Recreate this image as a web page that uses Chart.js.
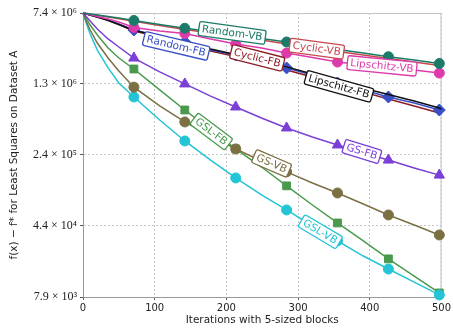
<!DOCTYPE html>
<html>
<head>
<meta charset="utf-8">
<script src="https://cdn.jsdelivr.net/npm/chart.js@4.4.0/dist/chart.umd.min.js"></script>
<style>
  html, body { margin: 0; padding: 0; background: #fff; }
</style>
</head>
<body>
<canvas id="myChart" width="453" height="328"></canvas>
<script>
// iterations where values were read, and where markers are drawn
let iters = [0, 5, 10, 20, 35, 50, 71, 107, 142, 178, 213, 249, 284, 320, 355, 391, 426, 462, 497, 500];
let markIters = [71, 142, 213, 284, 355, 426, 497];

let randomVB = [7.40e6, 7.31e6, 7.22e6, 7.05e6, 6.80e6, 6.56e6, 6.18e6, 5.61e6, 5.12e6, 4.74e6, 4.36e6, 4.00e6, 3.68e6, 3.34e6, 3.07e6, 2.82e6, 2.58e6, 2.39e6, 2.19e6, 2.17e6];
let cyclicVB = [7.40e6, 7.31e6, 7.19e6, 7.00e6, 6.72e6, 6.45e6, 6.06e6, 5.48e6, 4.97e6, 4.57e6, 4.20e6, 3.86e6, 3.51e6, 3.18e6, 2.93e6, 2.69e6, 2.47e6, 2.27e6, 2.09e6, 2.06e6];
let lipschitzVB = [7.40e6, 7.26e6, 7.09e6, 6.80e6, 6.40e6, 5.96e6, 5.22e6, 4.80e6, 4.52e6, 3.96e6, 3.51e6, 3.18e6, 2.82e6, 2.53e6, 2.27e6, 2.11e6, 1.99e6, 1.87e6, 1.74e6, 1.72e6];
let randomFB = [7.40e6, 7.22e6, 7.05e6, 6.72e6, 6.25e6, 5.68e6, 4.91e6, 4.25e6, 3.68e6, 3.03e6, 2.69e6, 2.33e6, 1.97e6, 1.66e6, 1.37e6, 1.16e6, 9.78e5, 8.47e5, 7.15e5, 6.98e5];
let cyclicFB = [7.40e6, 7.22e6, 7.05e6, 6.72e6, 6.25e6, 5.61e6, 4.80e6, 4.15e6, 3.59e6, 2.96e6, 2.60e6, 2.22e6, 1.87e6, 1.58e6, 1.31e6, 1.10e6, 9.32e5, 7.88e5, 6.65e5, 6.49e5];
let lipschitzFB = [7.40e6, 7.22e6, 7.05e6, 6.72e6, 6.18e6, 5.61e6, 4.86e6, 4.25e6, 3.72e6, 3.11e6, 2.72e6, 2.39e6, 2.02e6, 1.70e6, 1.44e6, 1.21e6, 1.04e6, 8.88e5, 7.51e5, 7.33e5];
let gsFB = [7.40e6, 6.72e6, 6.10e6, 5.03e6, 3.96e6, 3.26e6, 2.50e6, 1.79e6, 1.34e6, 1.00e6, 7.69e5, 5.90e5, 4.64e5, 3.73e5, 3.08e5, 2.54e5, 2.14e5, 1.77e5, 1.49e5, 1.46e5];
let gslFB = [7.40e6, 6.40e6, 5.54e6, 4.36e6, 3.18e6, 2.50e6, 1.92e6, 1.16e6, 7.15e5, 4.42e5, 2.80e5, 1.81e5, 1.15e5, 7.25e4, 4.70e4, 3.05e4, 1.98e4, 1.31e4, 8.71e3, 8.30e3];
let gsVB = [7.40e6, 5.96e6, 4.91e6, 3.59e6, 2.50e6, 1.83e6, 1.24e6, 7.88e5, 5.36e5, 3.82e5, 2.80e5, 2.09e5, 1.61e5, 1.23e5, 9.68e4, 7.43e4, 5.70e4, 4.48e4, 3.52e4, 3.44e4];
let gslVB = [7.40e6, 5.68e6, 4.46e6, 3.03e6, 1.97e6, 1.37e6, 9.78e5, 5.62e5, 3.39e5, 2.14e5, 1.39e5, 9.23e4, 6.43e4, 4.37e4, 3.05e4, 2.12e4, 1.55e4, 1.13e4, 8.30e3, 8.10e3];

let yTickVals = [7.9e3, 4.373e4, 2.419e5, 1.338e6, 7.4e6];
let yTickLabels = ['7.9 × 10³', '4.4 × 10⁴', '2.4 × 10⁵', '1.3 × 10⁶', '7.4 × 10⁶'];

// name, values, colour, marker (null = plain line)
let series = [
  ['Random-VB', randomVB, '#1b7b68', 'circle'],
  ['Lipschitz-VB', lipschitzVB, '#dd3aab', 'circle'],
  ['Cyclic-VB', cyclicVB, '#c9484c', null],
  ['Lipschitz-FB', lipschitzFB, '#111111', null],
  ['Random-FB', randomFB, '#3a4fc6', 'rectRot'],
  ['Cyclic-FB', cyclicFB, '#8b1c24', null],
  ['GS-FB', gsFB, '#7b3fd6', 'triangle'],
  ['GS-VB', gsVB, '#7a7044', 'circle'],
  ['GSL-VB', gslVB, '#22c4d6', 'circle'],
  ['GSL-FB', gslFB, '#4a9a4e', 'rect'],
];

// inline label placement: dataset name, iteration along the line, pixel shift
let labelPlace = [
  ['Random-VB', 208, -1.5],
  ['Random-FB', 130, 6],
  ['Cyclic-VB', 326, 0],
  ['Lipschitz-VB', 417, -1],
  ['Cyclic-FB', 243, -4],
  ['Lipschitz-FB', 357, 5],
  ['GS-FB', 389, -1],
  ['GSL-FB', 179, 1],
  ['GS-VB', 263, -2],
  ['GSL-VB', 331, 1],
];

let markerSize = { circle: 5, rectRot: 6, triangle: 6, rect: 5.5 };

let datasets = series.map(s => ({
  label: s[0],
  data: iters.map((x, i) => ({ x: x, y: s[1][i] })),
  borderColor: s[2],
  backgroundColor: s[2],
  borderWidth: 1.5,
  pointStyle: s[3] || 'circle',
  pointRadius: (c) => (s[3] && markIters.includes(iters[c.dataIndex])) ? markerSize[s[3]] : 0,
  pointBorderWidth: 1,
  tension: 0,
  clip: 8,
}));

let inlineLabels = {
  id: 'inlineLabels',
  afterDatasetsDraw: (chart) => {
    let ctx = chart.ctx;
    let xs = chart.scales.x;
    labelPlace.forEach(lp => {
      let di = series.findIndex(s => s[0] === lp[0]);
      let pts = chart.getDatasetMeta(di).data;
      let j = 0;
      while (j < iters.length - 2 && iters[j + 1] < lp[1]) j++;
      let p1 = pts[j], p2 = pts[j + 1];
      let t = (lp[1] - iters[j]) / (iters[j + 1] - iters[j]);
      let x = xs.getPixelForValue(lp[1]);
      let y = p1.y + (p2.y - p1.y) * t + lp[2];
      let ang = Math.atan2(p2.y - p1.y, p2.x - p1.x);
      let col = series[di][2];

      ctx.save();
      ctx.translate(x, y);
      ctx.rotate(ang);
      ctx.font = '10.5px "DejaVu Sans"';
      let w = ctx.measureText(lp[0]).width + 6;
      let h = 14;
      ctx.beginPath();
      ctx.roundRect(-w / 2, -h / 2, w, h, 2);
      ctx.fillStyle = '#fff';
      ctx.fill();
      ctx.lineWidth = 1.3;
      ctx.strokeStyle = col;
      ctx.stroke();
      ctx.fillStyle = col;
      ctx.textAlign = 'center';
      ctx.textBaseline = 'middle';
      ctx.fillText(lp[0], 0, 0.5);
      ctx.restore();
    });
  }
};

let frame = {
  id: 'frame',
  beforeDatasetsDraw: (chart) => {
    let a = chart.chartArea;
    let ctx = chart.ctx;
    ctx.save();
    ctx.strokeStyle = '#c4c4c4';
    ctx.lineWidth = 1;
    ctx.beginPath();
    ctx.moveTo(a.left, a.top + 0.5);
    ctx.lineTo(a.right - 0.5, a.top + 0.5);
    ctx.lineTo(a.right - 0.5, a.bottom);
    ctx.stroke();
    ctx.restore();
  }
};

Chart.defaults.font.family = '"DejaVu Sans"';

var ctx = document.getElementById('myChart').getContext('2d');
let myChart = new Chart(ctx, {
  type: 'line',
  data: { datasets: datasets },
  options: {
    responsive: false,
    animation: false,
    layout: { padding: { top: 13, right: 10, left: 0, bottom: 0 } },
    plugins: {
      legend: { display: false },
      tooltip: { enabled: false },
    },
    scales: {
      x: {
        type: 'linear',
        min: 0,
        max: 500,
        ticks: { stepSize: 100, color: '#222', font: { size: 10 }, padding: 2, maxRotation: 0 },
        grid: { color: '#c8c8c8', tickColor: '#666', tickLength: 3 },
        border: { color: '#999', dash: [2, 2] },
        title: {
          display: true,
          text: 'Iterations with 5-sized blocks',
          color: '#222',
          font: { size: 10.5 },
          padding: { top: 0, bottom: 1 },
        },
        afterFit: (scale) => { scale.height = 31; },
      },
      y: {
        type: 'logarithmic',
        min: 7.9e3,
        max: 7.4e6,
        afterBuildTicks: (scale) => {
          scale.ticks = yTickVals.map(v => ({ value: v }));
        },
        ticks: {
          callback: (v, i) => yTickLabels[i],
          color: '#222',
          font: { family: '"Liberation Serif"', size: 12 },
          padding: 3,
        },
        grid: { color: '#c8c8c8', tickColor: '#555', tickLength: 3 },
        border: { color: '#999', dash: [2, 2] },
        title: {
          display: true,
          text: 'f(x) − f* for Least Squares on Dataset A',
          color: '#222',
          font: { size: 10.5 },
          padding: { top: 8, bottom: 0 },
        },
        afterFit: (scale) => { scale.width = 83; },
      }
    }
  },
  plugins: [frame, inlineLabels]
});
</script>
</body>
</html>
